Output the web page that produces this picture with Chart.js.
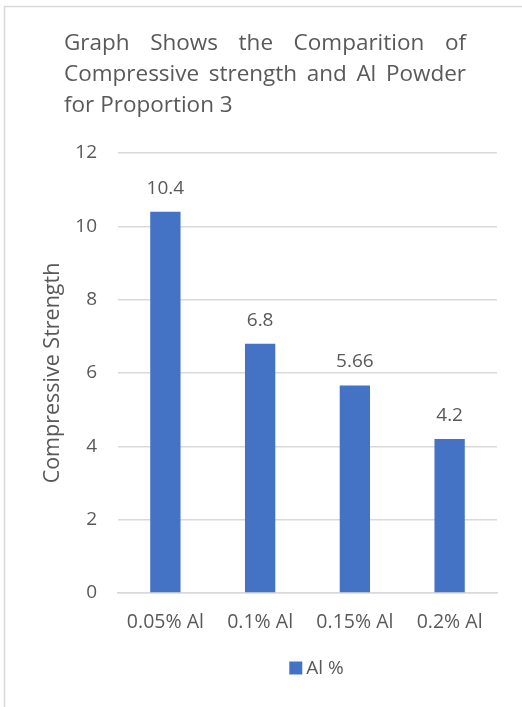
<!DOCTYPE html>
<html>
<head>
<meta charset="utf-8">
<script src="https://cdn.jsdelivr.net/npm/chart.js@4.4.1/dist/chart.umd.min.js"></script>
<style>
  html, body { margin: 0; padding: 0; background: #ffffff; }
  #wrap { position: relative; width: 522px; height: 707px; }
</style>
</head>
<body>
<div id="wrap"><canvas id="chart" width="522" height="707"></canvas></div>
<script>
// Chart content
const titleLines = ['Graph Shows the Comparition of', 'Compressive strength and Al Powder', 'for Proportion 3'];
const categories = ['0.05% Al', '0.1% Al', '0.15% Al', '0.2% Al'];
const strengthValues = [10.4, 6.8, 5.66, 4.2];
const seriesName = 'Al %';
const yAxisTitle = 'Compressive Strength';
const yMin = 0, yMax = 12, yStep = 2;

const FONT = '"Open Sans", Lato, sans-serif';
const TEXT = '#595959';
const GRID = '#d9d9d9';
const BAR = '#4472C4';

// Frame line along the top and left edges
const framePlugin = {
  id: 'frame',
  beforeDraw(chart) {
    const c = chart.ctx;
    c.save();
    c.strokeStyle = GRID;
    c.lineWidth = 1.5;
    c.beginPath();
    c.moveTo(4.5, chart.height);
    c.lineTo(4.5, 6.5);
    c.lineTo(chart.width, 6.5);
    c.stroke();
    c.restore();
  }
};

// Justified multi-line title drawn above the plot
const justifiedTitle = {
  id: 'justifiedTitle',
  afterDraw(chart, args, opts) {
    const c = chart.ctx;
    c.save();
    c.fillStyle = TEXT;
    c.font = `${opts.size}px ${FONT}`;
    c.textBaseline = 'alphabetic';
    c.textAlign = 'left';
    const lines = opts.lines;
    lines.forEach((line, i) => {
      const y = opts.top + i * opts.lineGap;
      const words = line.split(' ');
      if (i === lines.length - 1 || words.length < 2) {
        c.fillText(line, opts.left, y);
        return;
      }
      const widths = words.map(w => c.measureText(w).width);
      const total = widths.reduce((a, b) => a + b, 0);
      const gap = (opts.right - opts.left - total) / (words.length - 1);
      let x = opts.left;
      words.forEach((w, k) => {
        c.fillText(w, x, y);
        x += widths[k] + gap;
      });
    });
    c.restore();
  }
};

// Value labels above each bar
const valueLabels = {
  id: 'valueLabels',
  afterDatasetsDraw(chart, args, opts) {
    const c = chart.ctx;
    c.save();
    c.fillStyle = TEXT;
    c.font = `${opts.size}px ${FONT}`;
    c.textAlign = 'center';
    c.textBaseline = 'alphabetic';
    chart.getDatasetMeta(0).data.forEach((bar, i) => {
      const v = chart.data.datasets[0].data[i];
      c.fillText(String(v), bar.x, bar.y - opts.offset);
    });
    c.restore();
  }
};

// Series key centred under the plot area
const seriesKey = {
  id: 'seriesKey',
  afterDraw(chart, args, opts) {
    const c = chart.ctx;
    const ds = chart.data.datasets[0];
    c.save();
    c.font = `${opts.size}px ${FONT}`;
    const tw = c.measureText(ds.label).width;
    const total = opts.box + opts.gap + tw;
    const area = chart.chartArea;
    const x0 = (area.left + area.right) / 2 - total / 2 + opts.shift;
    c.fillStyle = ds.backgroundColor;
    c.fillRect(x0, opts.y - opts.box / 2, opts.box, opts.box);
    c.fillStyle = TEXT;
    c.textAlign = 'left';
    c.textBaseline = 'middle';
    c.fillText(ds.label, x0 + opts.box + opts.gap, opts.y + 1);
    c.restore();
  }
};

new Chart(document.getElementById('chart'), {
  type: 'bar',
  data: {
    labels: categories,
    datasets: [{
      label: seriesName,
      data: strengthValues,
      backgroundColor: BAR,
      borderWidth: 0,
      barPercentage: 0.32,
      categoryPercentage: 1
    }]
  },
  options: {
    responsive: false,
    animation: false,
    devicePixelRatio: 1,
    layout: { padding: { left: 0, right: 25, top: 153, bottom: 62 } },
    plugins: {
      title: { display: false },
      tooltip: { enabled: false },
      legend: { display: false },
      justifiedTitle: { lines: titleLines, size: 22.5, left: 64, right: 466, top: 50, lineGap: 31 },
      valueLabels: { size: 19, offset: 18 },
      seriesKey: { size: 19, box: 13, gap: 4, y: 668, shift: 9 }
    },
    scales: {
      x: {
        grid: { display: false, drawTicks: false },
        border: { display: true, color: GRID, width: 1.5 },
        ticks: { color: TEXT, font: { family: FONT, size: 19.5 }, padding: 18 },
        afterFit(scale) { scale.height = 52; }
      },
      y: {
        min: yMin,
        max: yMax,
        ticks: { stepSize: yStep, color: TEXT, font: { family: FONT, size: 19 }, padding: 21 },
        grid: { color: GRID, lineWidth: 1.5, drawTicks: false },
        border: { display: false },
        title: {
          display: true,
          text: yAxisTitle,
          color: TEXT,
          font: { family: FONT, size: 21.5 },
          padding: { top: 40, bottom: 0 }
        },
        afterFit(scale) { scale.width = 118; }
      }
    }
  },
  plugins: [framePlugin, justifiedTitle, valueLabels, seriesKey]
});
</script>
</body>
</html>
